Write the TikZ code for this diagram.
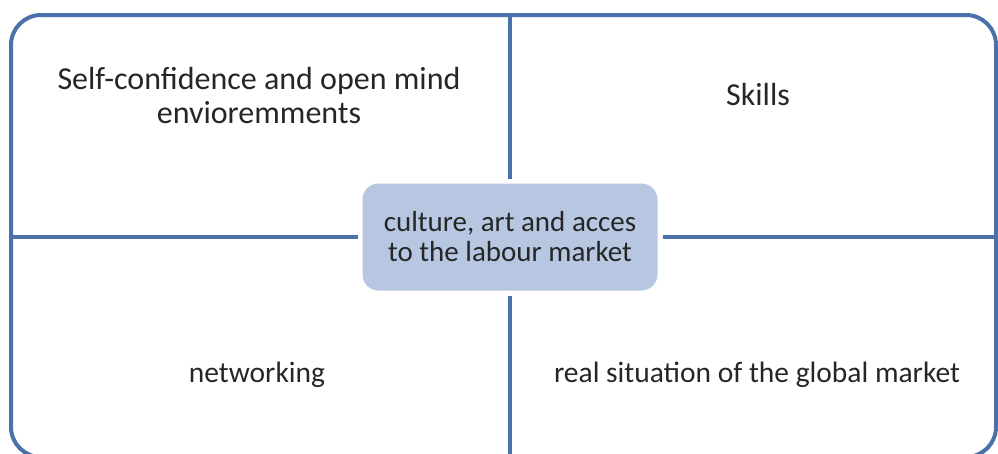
\documentclass[tikz,border=0pt]{standalone}
\usepackage{fontspec}
\setmainfont{Carlito}
\definecolor{frameblue}{RGB}{74,114,170}
\definecolor{hubfill}{RGB}{183,199,225}
\definecolor{txtgray}{RGB}{38,38,38}
\tikzset{
  divider/.style={frameblue, line width=4pt},
  hub/.style={fill=hubfill, rounded corners=16pt, minimum width=295pt,
    minimum height=107pt, inner sep=0pt, outer sep=5pt, align=center,
    text=txtgray, font=\fontsize{29}{30}\selectfont},
  quadtext/.style={align=center, text=txtgray, font=\fontsize{32}{34}\selectfont},
  lowtext/.style={quadtext, font=\fontsize{29.5}{34}\selectfont}
}
\begin{document}
\begin{tikzpicture}[x=1pt,y=-1pt]
\useasboundingbox (0,0) rectangle (998,453);
\clip (0,0) rectangle (998,453);

% outer frame
\draw[divider, rounded corners=30pt] (11,15) rectangle (996,457);
\coordinate (top) at (510,15);
\coordinate (bottom) at (510,457);
\coordinate (left) at (11,237);
\coordinate (right) at (996,237);

\node[hub] (hub) at (510,237) {culture, art and acces\\to the labour market};
\foreach \c in {top,bottom,left,right}{
\draw[divider] (hub) -- (\c);
}

\node[quadtext] (selfconf) at (259,96) {Self-confidence and open mind\\envioremments};
\node[quadtext, anchor=base] (skills) at (758,105) {Skills};
\node[lowtext, anchor=base] (networking) at (257,382) {networking};
\node[lowtext, anchor=base] (globalmarket) at (757,382) {real situation of the global market};

\end{tikzpicture}
\end{document}
